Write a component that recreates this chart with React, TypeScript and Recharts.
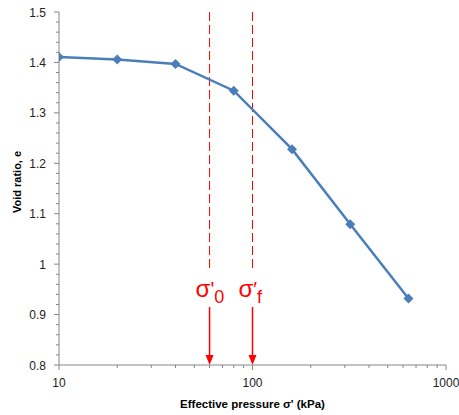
import { Line, LineChart, ReferenceDot, ReferenceLine, XAxis, YAxis, Label } from "recharts";

const pressure = [10, 20, 40, 80, 160, 320, 640];
const voidRatio = [1.411, 1.406, 1.397, 1.344, 1.228, 1.079, 0.932];

const xMajorTicks = [10, 100, 1000];
const xTicks = [10, 20, 30, 40, 50, 60, 70, 80, 90, 100, 200, 300, 400, 500, 600, 700, 800, 900, 1000];
const yMajorTicks = [0.8, 0.9, 1, 1.1, 1.2, 1.3, 1.4, 1.5];
const yTicks = [
  0.8, 0.82, 0.84, 0.86, 0.88, 0.9, 0.92, 0.94, 0.96, 0.98, 1, 1.02, 1.04, 1.06, 1.08, 1.1,
  1.12, 1.14, 1.16, 1.18, 1.2, 1.22, 1.24, 1.26, 1.28, 1.3, 1.32, 1.34, 1.36, 1.38, 1.4,
  1.42, 1.44, 1.46, 1.48, 1.5,
];

// preconsolidation markers
const sigma0 = 60;
const sigmaF = 100;
const dashTop = 1.5;
const dashBottom = 0.988;
const arrowTop = 0.915;
const arrowBottom = 0.8;
const labelY = 0.935;

const data = pressure.map((p, i) => ({ p, e: voidRatio[i] }));

const FONT = "'Liberation Sans', Arial, sans-serif";
const AXIS = "#868686";
const RED = "#ff0000";

const isMajor = (list: number[], v: number) => list.some((m) => Math.abs(m - v) < 1e-9);

function XTick({ x, y, payload }: any) {
  const major = isMajor(xMajorTicks, payload.value);
  return (
    <g>
      <line x1={x} x2={x} y1={y} y2={y + (major ? 5 : 3)} stroke={AXIS} />
      {major && (
        <text x={x} y={y + 22} textAnchor="middle" fontSize={12} fontFamily={FONT} fill="#222">
          {payload.value}
        </text>
      )}
    </g>
  );
}

function YTick({ x, y, payload }: any) {
  const major = isMajor(yMajorTicks, payload.value);
  return (
    <g>
      <line x1={x - (major ? 5 : 3)} x2={x} y1={y} y2={y} stroke={AXIS} />
      {major && (
        <text x={x - 13} y={y + 4.5} textAnchor="end" fontSize={12} fontFamily={FONT} fill="#222">
          {String(Math.round(payload.value * 10) / 10)}
        </text>
      )}
    </g>
  );
}

function Diamond({ cx, cy, index }: any) {
  const r = 5;
  return (
    <polygon
      key={index}
      points={`${cx},${cy - r} ${cx + r},${cy} ${cx},${cy + r} ${cx - r},${cy}`}
      fill="#4a7ebb"
    />
  );
}

function Arrow({ x1, y1, x2, y2 }: any) {
  return (
    <g>
      <line x1={x1} y1={y1} x2={x2} y2={y2 - 6} stroke={RED} strokeWidth={1.5} />
      <polygon points={`${x2},${y2} ${x2 - 4},${y2 - 10} ${x2 + 4},${y2 - 10}`} fill={RED} />
    </g>
  );
}

function SigmaLabel({ cx, cy, sub, prime }: any) {
  return (
    <text x={cx - 14} y={cy} fontSize={24} fontFamily={FONT} fill={RED}>
      σ
      <tspan fontSize={20} dy={-1}>{prime}</tspan>
      <tspan fontSize={18} dy={7}>{sub}</tspan>
    </text>
  );
}

export default function App() {
  return (
    <div style={{ position: "absolute", left: 0, top: 0, background: "#fff" }}>
      <LineChart width={459} height={415} data={data} margin={{ top: 12, right: 13, bottom: 0, left: 0 }}>
        <XAxis
          dataKey="p"
          type="number"
          scale="log"
          domain={[10, 1000]}
          ticks={xTicks}
          interval={0}
          tick={<XTick />}
          tickSize={0}
          tickMargin={0}
          tickLine={false}
          height={50}
          stroke={AXIS}
          allowDataOverflow
        >
          <Label
            content={({ viewBox }: any) => (
              <text
                x={viewBox.x + viewBox.width / 2}
                y={viewBox.y + 43}
                textAnchor="middle"
                fontSize={11.5}
                fontWeight="bold"
                fontFamily={FONT}
              >
                Effective pressure σ' (kPa)
              </text>
            )}
          />
        </XAxis>
        <YAxis
          type="number"
          domain={[0.8, 1.5]}
          ticks={yTicks}
          interval={0}
          tick={<YTick />}
          tickSize={0}
          tickMargin={0}
          tickLine={false}
          width={59}
          stroke={AXIS}
          allowDataOverflow
        >
          <Label
            content={({ viewBox }: any) => {
              const cx = viewBox.x + 18;
              const cy = 182;
              return (
                <text
                  x={cx}
                  y={cy}
                  transform={`rotate(-90 ${cx} ${cy})`}
                  textAnchor="middle"
                  dominantBaseline="middle"
                  fontSize={11}
                  fontWeight="bold"
                  fontFamily={FONT}
                >
                  Void ratio, e
                </text>
              );
            }}
          />
        </YAxis>
        <ReferenceLine
          segment={[{ x: sigma0, y: dashTop }, { x: sigma0, y: dashBottom }]}
          stroke={RED}
          strokeDasharray="9 4"
        />
        <ReferenceLine
          segment={[{ x: sigmaF, y: dashTop }, { x: sigmaF, y: dashBottom }]}
          stroke={RED}
          strokeDasharray="9 4"
        />
        <ReferenceLine
          segment={[{ x: sigma0, y: arrowTop }, { x: sigma0, y: arrowBottom }]}
          shape={<Arrow />}
        />
        <ReferenceLine
          segment={[{ x: sigmaF, y: arrowTop }, { x: sigmaF, y: arrowBottom }]}
          shape={<Arrow />}
        />
        <ReferenceDot x={sigma0} y={labelY} r={0} shape={<SigmaLabel prime="'" sub="0" />} />
        <ReferenceDot x={sigmaF} y={labelY} r={0} shape={<SigmaLabel prime="′" sub="f" />} />
        <Line
          dataKey="e"
          stroke="#4a7ebb"
          strokeWidth={2.5}
          dot={<Diamond />}
          activeDot={false}
          isAnimationActive={false}
        />
      </LineChart>
    </div>
  );
}
